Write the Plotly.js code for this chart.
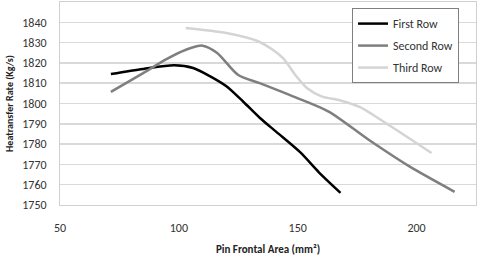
<!DOCTYPE html>
<html><head><meta charset="utf-8">
<script src="https://cdn.plot.ly/plotly-3.0.1.min.js"></script>
<style>html,body{margin:0;padding:0;background:#fff}#c{width:482px;height:256px}</style>
</head><body><div id="c"></div>
<script>
const firstX = [71.4, 85, 98, 106, 113, 120, 127, 134, 141, 151, 159, 168];
const firstY = [1814.5, 1817, 1818.8, 1817.5, 1813.5, 1808.5, 1801, 1793, 1786, 1776, 1766, 1756];
const secondX = [71.4, 85, 95, 103, 110, 116, 125, 134, 148, 163, 180, 197, 216];
const secondY = [1805.7, 1815, 1822, 1826.5, 1828.5, 1825, 1814, 1810, 1803.5, 1796, 1782, 1769, 1756.5];
const thirdX = [102.9, 120, 134, 143.7, 149, 154, 160, 168, 176, 187, 206.3];
const thirdY = [1837.2, 1834.7, 1830.3, 1822.5, 1814, 1807.5, 1803.5, 1801.5, 1798.3, 1790.4, 1775.6];
const names = ["First Row", "Second Row", "Third Row"];
const colors = ["#000000", "#7f7f7f", "#d4d4d4"];
const xTicks = [50, 100, 150, 200];

const font = "Carlito, Lato, 'Liberation Sans', sans-serif";
const data = [[firstX, firstY], [secondX, secondY], [thirdX, thirdY]].map((d, i) => ({
  x: d[0], y: d[1], name: names[i], legendgroup: "g" + i, type: "scatter", mode: "lines",
  line: {color: colors[i], width: 2.5, shape: "spline", smoothing: 0.8}
}));

const layout = {
  width: 482, height: 256,
  margin: {l: 60, r: 6, t: 2, b: 51},
  paper_bgcolor: "#fff", plot_bgcolor: "#fff",
  font: {family: font, size: 12, color: "#333"},
  showlegend: true,
  legend: {x: 0.702, y: 0.97, xanchor: "left", yanchor: "top",
    bgcolor: "#fff", bordercolor: "#7f7f7f", borderwidth: 1, itemwidth: 30,
    font: {family: font, size: 12, color: "#333"}, tracegroupgap: 3},
  xaxis: {range: [50, 225], tickvals: xTicks, ticktext: xTicks.map(String),
    showgrid: false, zeroline: false, showline: true, mirror: true, linecolor: "#d0d0d0", linewidth: 1,
    ticks: "outside", ticklen: 12, tickcolor: "rgba(0,0,0,0)", tickfont: {size: 12, color: "#333"},
    title: {text: "<b>Pin Frontal Area (mm²)</b>", font: {size: 11, color: "#222"}, standoff: 12}},
  yaxis: {range: [1750, 1850], dtick: 10, showgrid: true, gridcolor: "#d9d9d9", gridwidth: 1.5,
    zeroline: false, showline: true, mirror: true, linecolor: "#d0d0d0", linewidth: 1,
    ticks: "outside", ticklen: 10, tickcolor: "rgba(0,0,0,0)", tickfont: {size: 12, color: "#333"},
    title: {text: "<b>Heatransfer Rate (Kg/s)</b>", font: {size: 10, color: "#222"}, standoff: 6}}
};
Plotly.newPlot("c", data, layout, {staticPlot: true, displayModeBar: false});
</script></body></html>
